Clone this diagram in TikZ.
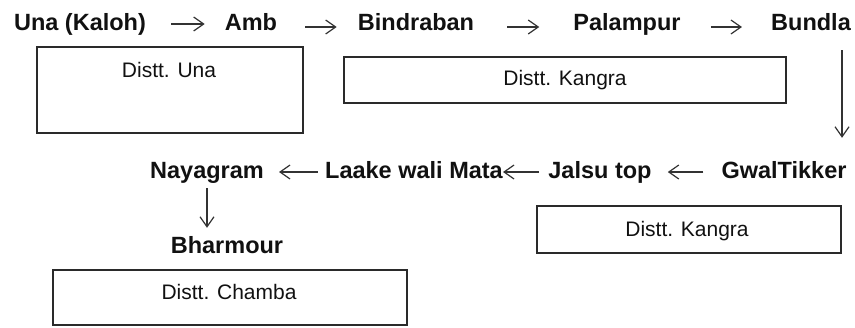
\documentclass[tikz,border=0pt]{standalone}
\usepackage{fontspec}
\setmainfont{Liberation Sans}
\usetikzlibrary{arrows.meta}
\definecolor{ink}{HTML}{111111}
\definecolor{boxline}{HTML}{2A2A2A}
\definecolor{arrowgray}{HTML}{333333}
\tikzset{
  place/.style={inner sep=0pt, anchor=base, text=ink, text height=17pt, text depth=5pt,
    font=\fontsize{23.5}{28}\selectfont\bfseries},
  distbox/.style={draw=boxline, line width=1.3pt, rectangle, inner sep=0pt},
  disttext/.style={inner sep=0pt, anchor=base, text=ink, font=\fontsize{21}{25}\selectfont},
  arr/.style={draw=arrowgray, line width=1.2pt, -{Straight Barb[length=10pt,width=14pt]}}
}
\begin{document}
\begin{tikzpicture}[x=1pt,y=-1pt]
\useasboundingbox (0,0) rectangle (855,327);
% row 1
\node[place] (una) at (80,30) {Una (Kaloh)};
\node[place] (amb) at (251,30) {Amb};
\node[place] (bind) at (416,30) {Bindraban};
\node[place] (pal) at (627,30) {Palampur};
\node[place] (bundla) at (811,30) {Bundla};
% row 2
\node[place] (gwal) at (784,178) {GwalTikker};
\node[place] (jalsu) at (600,178) {Jalsu top};
\node[place] (laake) at (414,178) {Laake wali Mata};
\node[place] (naya) at (207,178) {Nayagram};
\node[place] (bhar) at (227,253) {Bharmour};
% boxes
\node[distbox, minimum width=266pt, minimum height=86pt] (box1) at (170,90) {};
\node[distbox, minimum width=442pt, minimum height=46pt] (box2) at (565,80) {};
\node[distbox, minimum width=304pt, minimum height=47pt] (box3) at (689,229.5) {};
\node[distbox, minimum width=354pt, minimum height=55pt] (box4) at (230,297.5) {};
\node[disttext] (t1) at (169,77) {Distt. Una};
\node[disttext] (t2) at (565,85) {Distt. Kangra};
\node[disttext] (t3) at (687,236) {Distt. Kangra};
\node[disttext] (t4) at (229,299) {Distt. Chamba};
% arrows row 1
\draw[arr, shorten <=25pt, shorten >=20pt] (una.east) -- (amb.west);
\draw[arr, shorten <=28pt, shorten >=21pt] ([yshift=-3pt]amb.east) -- ([yshift=-3pt]bind.west);
\draw[arr, shorten <=33pt, shorten >=34pt] ([yshift=-3pt]bind.east) -- ([yshift=-3pt]pal.west);
\draw[arr, shorten <=30pt, shorten >=29pt] ([yshift=-3pt]pal.east) -- ([yshift=-3pt]bundla.west);
% down arrow
\draw[arr, shorten <=15pt, shorten >=23pt] ([xshift=-9pt]bundla.south east) -- ([xshift=-9pt]bundla.south east |- gwal.north);
% row 2 arrows
\draw[arr, shorten <=18pt, shorten >=16pt] (gwal.west) -- (jalsu.east);
\draw[arr, shorten <=9pt, shorten >=0pt] (jalsu.west) -- (laake.east);
\draw[arr, shorten <=7pt, shorten >=15pt] (laake.west) -- (naya.east);
\draw[arr, shorten <=5pt, shorten >=8pt] (naya.south) -- (naya.south |- bhar.north);
\end{tikzpicture}
\end{document}
